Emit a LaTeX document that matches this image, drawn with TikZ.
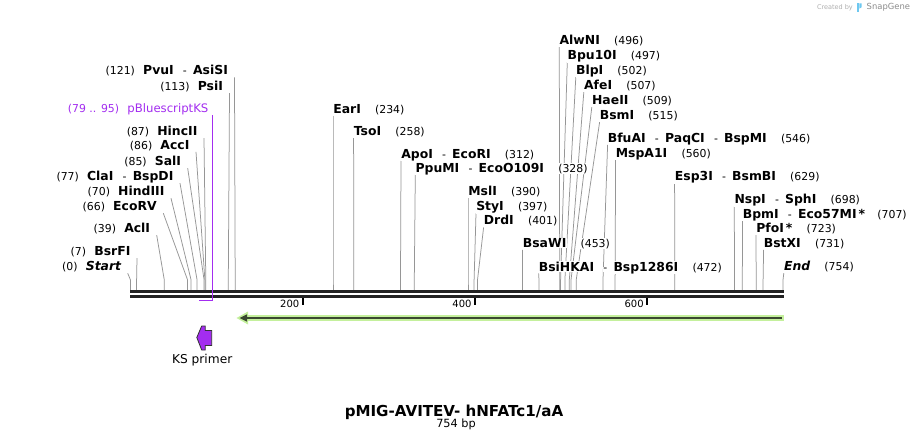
\documentclass[tikz,border=0pt]{standalone}
\usepackage{fontspec}
\setmainfont{DejaVu Sans}
\usetikzlibrary{backgrounds}
\definecolor{lncol}{RGB}{150,150,150}
\definecolor{ksp}{RGB}{163,45,240}
\definecolor{lgreen}{RGB}{196,240,156}
\definecolor{dgreen}{RGB}{58,72,48}
\definecolor{bbcol}{RGB}{34,34,34}
\definecolor{sgray}{RGB}{175,175,175}
\definecolor{sgrayd}{RGB}{140,140,140}
\definecolor{sblue}{RGB}{110,200,240}
\setlength{\fboxsep}{0.6pt}
\newcommand{\EnzN}[1]{\colorbox{white}{\fontsize{12.4}{14}\selectfont\bfseries #1}}
\newcommand{\EnzP}[1]{\colorbox{white}{\fontsize{10.9}{12}\selectfont #1}}
\newcommand{\EnzD}{\hspace{8pt}\EnzP{-}\hspace{5pt}}
\newcommand{\GapR}{\hspace{13pt}}
\newcommand{\GapL}{\hspace{7pt}}
\newcommand{\CutL}[2]{\draw[cut] ([xshift=6pt,yshift=-2.5pt]#1.base east) -- ([yshift=10pt]#2) -- (#2);}
\newcommand{\CutR}[2]{\draw[cut] ([xshift=0.3pt,yshift=-2.5pt]#1.base west) -- ([yshift=10pt]#2) -- (#2);}
\begin{document}
\begin{tikzpicture}[x=1pt,y=-1pt,
  lbl/.style={inner sep=0pt, outer sep=0pt},
  lblL/.style={lbl, anchor=base east},
  lblR/.style={lbl, anchor=base west},
  cut/.style={draw=lncol, line width=0.75pt},
  bbline/.style={draw=bbcol, line width=2.7pt},
  tickm/.style={draw=black, line width=2pt},
  ticklbl/.style={inner sep=0pt, anchor=base east, font=\fontsize{10}{12}\selectfont}
]
\useasboundingbox (0,0) rectangle (914,441);

% ---- cut sites on the backbone ----
\coordinate (sStart) at (130.5,290);
\coordinate (sBsrFI) at (136.6,290);
\coordinate (sAclI) at (164.3,290);
\coordinate (sEcoRV) at (187.6,290);
\coordinate (sHindIII) at (191.1,290);
\coordinate (sClaI) at (197.1,290);
\coordinate (sSalI) at (204.1,290);
\coordinate (sAccI) at (204.9,290);
\coordinate (sHincII) at (205.8,290);
\coordinate (sPsiI) at (228.3,290);
\coordinate (sPvuI) at (235.2,290);
\coordinate (sEarI) at (333.0,290);
\coordinate (sTsoI) at (353.8,290);
\coordinate (sApoI) at (400.5,290);
\coordinate (sPpuMI) at (414.3,290);
\coordinate (sMslI) at (468.0,290);
\coordinate (sStyI) at (474.1,290);
\coordinate (sDrdI) at (477.5,290);
\coordinate (sBsaWI) at (522.5,290);
\coordinate (sBsiHKAI) at (539.0,290);
\coordinate (sAlwNI) at (559.7,290);
\coordinate (sBpu) at (560.6,290);
\coordinate (sBlpI) at (564.9,290);
\coordinate (sAfeI) at (569.3,290);
\coordinate (sHaeII) at (571.0,290);
\coordinate (sBsmI) at (576.2,290);
\coordinate (sBfuAI) at (603.0,290);
\coordinate (sMspA) at (615.1,290);
\coordinate (sEsp) at (674.8,290);
\coordinate (sNspI) at (734.5,290);
\coordinate (sBpmI) at (742.3,290);
\coordinate (sPfoI) at (756.2,290);
\coordinate (sBstXI) at (763.1,290);
\coordinate (sEnd) at (783.0,290);

% ---- left labels ----
\node[lblL] (lPvuI) at (228.5,75) {\EnzP{(121)}\GapL\EnzN{PvuI}\EnzD\EnzN{AsiSI}};
\node[lblL] (lPsiI) at (223.5,90.7) {\EnzP{(113)}\GapL\EnzN{PsiI}};
\node[lblL, text=ksp] (lKS) at (209,112.3) {\EnzP{(79 .. 95)}\GapL\colorbox{white}{\fontsize{11.7}{13}\selectfont pBluescriptKS}};
\node[lblL] (lHincII) at (198,135.7) {\EnzP{(87)}\GapL\EnzN{HincII}};
\node[lblL] (lAccI) at (190,149.3) {\EnzP{(86)}\GapL\EnzN{AccI}};
\node[lblL] (lSalI) at (181.7,165.7) {\EnzP{(85)}\GapL\EnzN{SalI}};
\node[lblL] (lClaI) at (174,180.7) {\EnzP{(77)}\GapL\EnzN{ClaI}\EnzD\EnzN{BspDI}};
\node[lblL] (lHindIII) at (165,195.7) {\EnzP{(70)}\GapL\EnzN{HindIII}};
\node[lblL] (lEcoRV) at (157.3,210.7) {\EnzP{(66)}\GapL\EnzN{EcoRV}};
\node[lblL] (lAclI) at (150.7,232.7) {\EnzP{(39)}\GapL\EnzN{AclI}};
\node[lblL] (lBsrFI) at (131,255.7) {\EnzP{(7)}\GapL\EnzN{BsrFI}};
\node[lblL] (lStart) at (121.7,270.7) {\EnzP{(0)}\GapL\EnzN{\itshape Start}};

% ---- right labels ----
\node[lblR] (rEarI) at (332.7,113.3) {\EnzN{EarI}\GapR\EnzP{(234)}};
\node[lblR] (rTsoI) at (353.3,135.7) {\EnzN{TsoI}\GapR\EnzP{(258)}};
\node[lblR] (rApoI) at (400.7,158.3) {\EnzN{ApoI}\EnzD\EnzN{EcoRI}\GapR\EnzP{(312)}};
\node[lblR] (rPpuMI) at (415,172.3) {\EnzN{PpuMI}\EnzD\EnzN{EcoO109I}\GapR\EnzP{(328)}};
\node[lblR] (rMslI) at (467.7,196) {\EnzN{MslI}\GapR\EnzP{(390)}};
\node[lblR] (rStyI) at (475.7,211) {\EnzN{StyI}\GapR\EnzP{(397)}};
\node[lblR] (rDrdI) at (483.3,225) {\EnzN{DrdI}\GapR\EnzP{(401)}};
\node[lblR] (rBsaWI) at (522.3,247.3) {\EnzN{BsaWI}\GapR\EnzP{(453)}};
\node[lblR] (rBsiHKAI) at (538.3,271) {\EnzN{BsiHKAI}\EnzD\EnzN{Bsp1286I}\GapR\EnzP{(472)}};
\node[lblR] (rAlwNI) at (559,44.7) {\EnzN{AlwNI}\GapR\EnzP{(496)}};
\node[lblR] (rBpu) at (567,59.7) {\EnzN{Bpu10I}\GapR\EnzP{(497)}};
\node[lblR] (rBlpI) at (575.5,74.7) {\EnzN{BlpI}\GapR\EnzP{(502)}};
\node[lblR] (rAfeI) at (583.5,89.7) {\EnzN{AfeI}\GapR\EnzP{(507)}};
\node[lblR] (rHaeII) at (591.5,104.7) {\EnzN{HaeII}\GapR\EnzP{(509)}};
\node[lblR] (rBsmI) at (599.3,119.7) {\EnzN{BsmI}\GapR\EnzP{(515)}};
\node[lblR] (rBfuAI) at (607.3,142.3) {\EnzN{BfuAI}\EnzD\EnzN{PaqCI}\EnzD\EnzN{BspMI}\GapR\EnzP{(546)}};
\node[lblR] (rMspA) at (615.3,157.3) {\EnzN{MspA1I}\GapR\EnzP{(560)}};
\node[lblR] (rEsp) at (674.3,180.7) {\EnzN{Esp3I}\EnzD\EnzN{BsmBI}\GapR\EnzP{(629)}};
\node[lblR] (rNspI) at (734,204) {\EnzN{NspI}\EnzD\EnzN{SphI}\GapR\EnzP{(698)}};
\node[lblR] (rBpmI) at (742.3,218.3) {\EnzN{BpmI}\EnzD\EnzN{Eco57MI\,*}\hspace{11pt}\EnzP{(707)}};
\node[lblR] (rPfoI) at (755.7,232.7) {\EnzN{PfoI\,*}\GapR\EnzP{(723)}};
\node[lblR] (rBstXI) at (763.3,247.3) {\EnzN{BstXI}\GapR\EnzP{(731)}};
\node[lblR] (rEnd) at (783.5,270.7) {\EnzN{\itshape End}\GapR\EnzP{(754)}};

% ---- connectors (behind the labels) ----
\begin{scope}[on background layer]
\fill[white] (0,0) rectangle (914,441);
\CutL{lPvuI}{sPvuI}
\CutL{lPsiI}{sPsiI}
\CutL{lHincII}{sHincII}
\CutL{lAccI}{sAccI}
\CutL{lSalI}{sSalI}
\CutL{lClaI}{sClaI}
\CutL{lHindIII}{sHindIII}
\CutL{lEcoRV}{sEcoRV}
\CutL{lAclI}{sAclI}
\CutL{lBsrFI}{sBsrFI}
\CutL{lStart}{sStart}
\CutR{rEarI}{sEarI}
\CutR{rTsoI}{sTsoI}
\CutR{rApoI}{sApoI}
\CutR{rPpuMI}{sPpuMI}
\CutR{rMslI}{sMslI}
\CutR{rStyI}{sStyI}
\CutR{rDrdI}{sDrdI}
\CutR{rBsaWI}{sBsaWI}
\CutR{rBsiHKAI}{sBsiHKAI}
\CutR{rAlwNI}{sAlwNI}
\CutR{rBpu}{sBpu}
\CutR{rBlpI}{sBlpI}
\CutR{rAfeI}{sAfeI}
\CutR{rHaeII}{sHaeII}
\CutR{rBsmI}{sBsmI}
\CutR{rBfuAI}{sBfuAI}
\CutR{rMspA}{sMspA}
\CutR{rEsp}{sEsp}
\CutR{rNspI}{sNspI}
\CutR{rBpmI}{sBpmI}
\CutR{rPfoI}{sPfoI}
\CutR{rBstXI}{sBstXI}
\CutR{rEnd}{sEnd}
\end{scope}

% ---- backbone ----
\draw[bbline] (130.3,291.6) -- (783.6,291.6);
\draw[bbline] (130.3,296.8) -- (783.6,296.8);

% ---- ruler ----
\draw[tickm] (303,298) -- (303,304.5);
\draw[tickm] (475.2,298) -- (475.2,304.5);
\draw[tickm] (647.4,298) -- (647.4,304.5);
\node[ticklbl] (t200) at (299.5,307.7) {200};
\node[ticklbl] (t400) at (471.7,307.7) {400};
\node[ticklbl] (t600) at (643.9,307.7) {600};

% ---- pBluescriptKS feature bracket ----
\coordinate (ksEnd) at (198.9,300.6);
\draw[ksp, line width=1.4pt] ([xshift=3.4pt,yshift=-3pt]lKS.base east) |- (ksEnd);

% ---- green feature arrow ----
\draw[lgreen, line width=6pt] (783.5,318) -- (246,318);
\fill[lgreen] (236.5,318) -- (248,311.5) -- (248,324.5) -- cycle;
\draw[dgreen, line width=2pt] (781.5,318) -- (245,318);
\fill[dgreen] (239.5,318) -- (247,314.3) -- (247,321.7) -- cycle;

% ---- KS primer ----
\filldraw[fill=ksp, draw=black!80, line width=0.8pt]
  (196.8,337.5) -- (201.7,326) -- (205.2,326) -- (205.2,330.5) -- (211.7,330.5)
  -- (211.7,345.5) -- (205.2,345.5) -- (205.2,350) -- (201.7,350) -- cycle;
\node[inner sep=0pt, anchor=base, font=\fontsize{12.2}{14}\selectfont] (ksprimer) at (202.2,363.3) {KS primer};

% ---- title ----
\node[inner sep=0pt, anchor=base, font=\fontsize{15.1}{17}\selectfont\bfseries] (title) at (454,416) {pMIG-AVITEV- hNFATc1/aA};
\node[inner sep=0pt, anchor=base, font=\fontsize{11.3}{13}\selectfont] (bp) at (456,427.7) {754 bp};

% ---- credit ----
\node[inner sep=0pt, anchor=base east, text=sgray, font=\fontsize{6.5}{8}\selectfont] (created) at (853,10) {Created by};
\fill[sblue] (857,3.5) rectangle (859.3,12);
\fill[sblue] (859.3,3.5) -- (861.6,3.5) -- (861.6,7.3) -- (859.3,8.6) -- cycle;
\node[inner sep=0pt, anchor=base west, text=sgrayd, font=\fontsize{8.4}{10}\selectfont] (snapgene) at (866.5,10) {SnapGene};
\end{tikzpicture}
\end{document}
